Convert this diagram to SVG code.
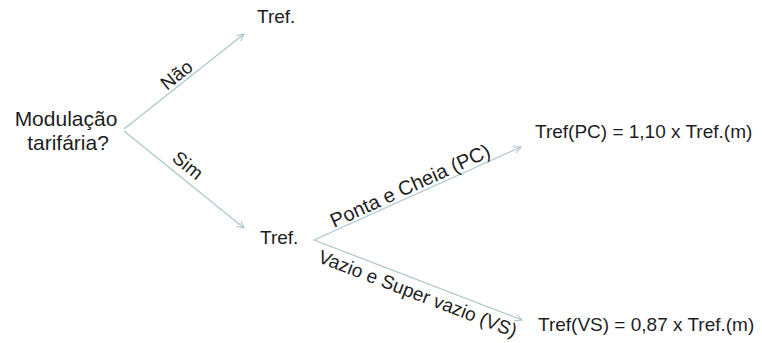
<svg xmlns="http://www.w3.org/2000/svg" width="762" height="343" viewBox="0 0 762 343">
<defs>
<style>
text{font-family:"Liberation Sans",Arial,sans-serif;font-size:19px;fill:#1e1e1e}
.edge{stroke:#aac6cf;stroke-width:1.2;fill:none}
</style>
<marker id="arr" markerWidth="8" markerHeight="8" refX="7" refY="4" orient="auto" markerUnits="userSpaceOnUse">
<path d="M0,0.5 L7,4 L0,7.5" fill="none" stroke="#aac6cf" stroke-width="1.1"/>
</marker>
</defs>
<rect width="762" height="343" fill="#ffffff"/>
<g id="connectors">
<line class="edge" x1="124" y1="129" x2="244" y2="34" marker-end="url(#arr)"/>
<line class="edge" x1="124" y1="131" x2="244" y2="228" marker-end="url(#arr)"/>
<line class="edge" x1="314" y1="240" x2="521" y2="147" marker-end="url(#arr)"/>
<line class="edge" x1="314" y1="240" x2="522" y2="320" marker-end="url(#arr)"/>
<text transform="translate(167,91) rotate(-39)">Não</text>
<text transform="translate(171,160) rotate(39)">Sim</text>
<text transform="translate(334,228) rotate(-24.5)" style="font-size:20px">Ponta e Cheia (PC)</text>
<text transform="translate(317,262) rotate(21)">Vazio e Super vazio (VS)</text>
</g>
<g id="node-question">
<text x="66" y="126" text-anchor="middle" style="font-size:21px">Modulação</text>
<text x="68" y="150" text-anchor="middle" style="font-size:21px">tarifária?</text>
</g>
<g id="node-tref-nao">
<text x="257" y="23">Tref.</text>
</g>
<g id="node-tref-sim">
<text x="260" y="244">Tref.</text>
</g>
<g id="node-tref-pc">
<text x="535" y="138">Tref(PC) = 1,10 x Tref.(m)</text>
</g>
<g id="node-tref-vs">
<text x="538" y="331">Tref(VS) = 0,87 x Tref.(m)</text>
</g>
</svg>
